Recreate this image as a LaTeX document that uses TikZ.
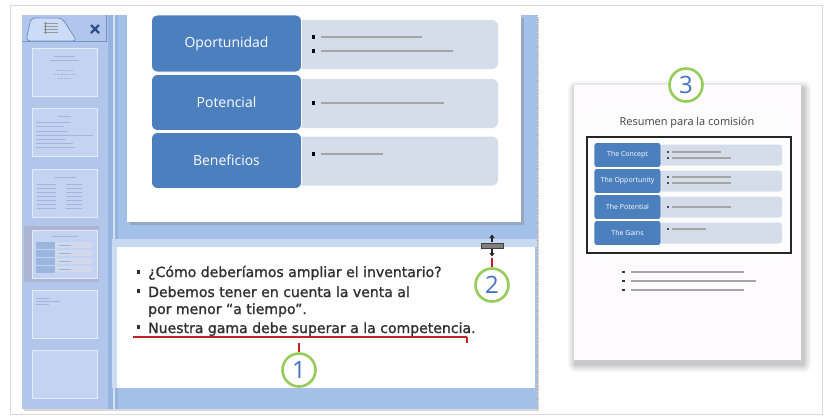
\documentclass[tikz,border=0pt]{standalone}
\usepackage{fontspec}
\setmainfont{Open Sans}
\newfontfamily\notesfont[FakeBold=1.2]{DejaVu Sans}
\usetikzlibrary{shadows,arrows.meta}
\definecolor{winblue}{RGB}{162,192,232}
\definecolor{paneblue}{RGB}{178,198,236}
\definecolor{stripeblue}{RGB}{150,180,226}
\definecolor{thumbfill}{RGB}{196,211,242}
\definecolor{thumbline}{RGB}{165,180,215}
\definecolor{selfill}{RGB}{172,182,212}
\definecolor{tabfill}{RGB}{205,220,246}
\definecolor{tabedge}{RGB}{110,145,200}
\definecolor{boxblue}{RGB}{76,127,189}
\definecolor{lightbx}{RGB}{214,221,234}
\definecolor{ringgreen}{RGB}{150,205,90}
\definecolor{numblue}{RGB}{70,112,192}
\definecolor{markred}{RGB}{196,32,42}
\definecolor{linegray}{RGB}{165,165,165}
\definecolor{notetext}{RGB}{48,48,48}
\definecolor{pagefill}{RGB}{253,251,254}
\definecolor{closeblue}{RGB}{45,80,140}
\begin{document}
\begin{tikzpicture}[x=1bp,y=-1bp,
  bluebox/.style={rectangle, rounded corners=6bp, fill=boxblue, draw=white, line width=0.8bp,
    text=white, font=\fontsize{14}{16}\selectfont, minimum width=150bp, minimum height=57bp, inner sep=0},
  lightbox/.style={rectangle, rounded corners=6bp, fill=lightbx, minimum width=202bp, minimum height=49bp, inner sep=0},
  smallblue/.style={rectangle, rounded corners=3bp, fill=boxblue, draw=white, line width=0.6bp,
    text=white, font=\fontsize{7}{8}\selectfont, minimum width=67bp, minimum height=25bp, inner sep=0},
  smalllight/.style={rectangle, rounded corners=3bp, fill=lightbx, minimum width=125bp, minimum height=21bp, inner sep=0},
  gline/.style={draw=linegray, line width=2.5bp},
  sline/.style={draw=linegray, line width=1.3bp},
  notes/.style={anchor=base west, inner sep=0, text=notetext, font=\notesfont\fontsize{14.1}{16}\selectfont},
  ring/.style={circle, draw=ringgreen, fill=white, line width=2.6bp, minimum size=33bp, inner sep=0,
    text=numblue, font=\fontsize{24}{24}\selectfont},
  redline/.style={draw=markred, line width=2bp},
  thumb/.style={fill=thumbfill, draw=white!55!thumbfill, line width=0.8bp},
  tl/.style={draw=thumbline, line width=0.5bp}
]
\useasboundingbox (0,0) rectangle (827,417);
\fill[white] (0,0) rectangle (827,417);
\draw[black!15, line width=1bp] (10,5) rectangle (822,414);

% ---------------- left window ----------------
\fill[winblue, drop shadow={shadow xshift=2bp, shadow yshift=-2bp, opacity=0.3}] (22,15) rectangle (537,409);
\fill[paneblue] (22,15) rectangle (108,409);
\fill[stripeblue] (108,15) rectangle (118,409);
\draw[white!55!winblue, line width=1.5bp] (114,15) -- (114,409);
\draw[black!35, densely dotted, line width=0.8bp] (537,15) -- (537,409);

% tab
\draw[tabedge, line width=0.8bp] (22,41) -- (106,41) -- (106,15);
\filldraw[fill=tabfill, draw=tabedge, line width=0.8bp, rounded corners=4bp] (26,41) -- (31,18) -- (62,18) -- (77,41) -- cycle;
\foreach \yy in {23.5,26.5,29.5,32.5} \draw[black!40, line width=1.2bp] (44,\yy) -- (58,\yy);
\draw[black!50, line width=1bp] (45,22) -- (45,34);
\draw[closeblue, line width=2.2bp] (91,25) -- (99,33) (91,33) -- (99,25);

% thumbnails
\fill[selfill] (24,226) rectangle (99,282);
\foreach \ty in {48,108,169,230,290,350}
  \filldraw[thumb, drop shadow={shadow xshift=1bp, shadow yshift=-1bp, opacity=0.15}] (32,\ty) rectangle (97,\ty+48);
% thumb 1
\draw[tl] (54,56) -- (75,56) (50,60) -- (79,60);
\draw[tl, densely dotted] (56,70) -- (73,70) (54,74) -- (75,74) (58,78) -- (71,78);
% thumb 2
\draw[tl] (58,116) -- (71,116);
\foreach \ly/\le in {122/70,126/64,131/68,135/93,139/66,143/73,147/75} \draw[tl] (36,\ly) -- (\le,\ly);
% thumb 3
\draw[tl] (54,177) -- (76,177);
\foreach \ly in {184,188,192,196,200,204,208} {\draw[tl] (37,\ly) -- (56,\ly); \draw[tl] (66,\ly) -- (82,\ly);}
% thumb 4
\draw[tl] (52,236) -- (78,236);
\foreach \ly in {245,253,261,269} {\fill[boxblue!35!thumbfill] (36,\ly-3.5) rectangle (55,\ly+3.5); \fill[lightbx!70!thumbfill] (55,\ly-3) rectangle (92,\ly+3); \draw[tl] (59,\ly) -- (71,\ly);}
% thumb 5
\draw[tl] (36,298) -- (50,298) (36,301) -- (60,301) (36,304) -- (49,304);

% slide
\fill[white, drop shadow={shadow xshift=3bp, shadow yshift=-3bp, opacity=0.35}] (127,15) rectangle (521,222);

\node[lightbox] (l1) at (397,44.5) {};
\node[lightbox] (l2) at (397,103.5) {};
\node[lightbox] (l3) at (397,161) {};
\node[bluebox] (b1) at (226.5,43.5) {Oportunidad};
\node[bluebox, minimum height=56bp] (b2) at (226.5,102.5) {Potencial};
\node[bluebox, minimum height=56bp] (b3) at (226.5,160.5) {Beneficios};
\foreach \by in {37,51,103,154} \fill[black] (311.8,\by-1.6) rectangle ++(3.2,3.2);
\draw[gline] (321,37) -- (422,37);
\draw[gline] (321,51) -- (453,51);
\draw[gline] (321,103) -- (444,103);
\draw[gline] (321,154) -- (383,154);

% splitter and notes
\fill[white!40!winblue] (112,239) rectangle (537,247);
\fill[white] (117,247) rectangle (535,388);
\fill[white!45!winblue] (112,247) rectangle (117,388);

\node[notes] (n1) at (148,277) {¿Cómo deberíamos ampliar el inventario?};
\node[notes] (n2) at (148,297) {Debemos tener en cuenta la venta al};
\node[notes] (n3) at (148,314) {por menor “a tiempo”.};
\node[notes] (n4) at (148,333) {Nuestra gama debe superar a la competencia.};
\foreach \by in {272,291,327} \fill[notetext] (137,\by-1.6) rectangle ++(3.2,3.2);

% splitter icon
\node[rectangle, fill=black!50, draw=black!75, line width=0.6bp, minimum width=22bp, minimum height=5bp, inner sep=0] (spl) at (492,245.5) {};
\draw[black!85, line width=1.1bp, -{Triangle[width=5bp,length=3.5bp]}] (492,242) -- (492,234.5);
\draw[black!85, line width=1.1bp, -{Triangle[width=5bp,length=3.5bp]}] (492,249) -- (492,256.5);
\coordinate (splb) at (492,258);

% callouts 1 and 2
\coordinate (brl) at (133,336.5);
\coordinate (brr) at (467,336.5);
\coordinate (brm) at (299,343);
\draw[redline] (brl) |- (brr);
\draw[redline] (brr) -- ++(0,6.5);
\node[ring] (c1) at (299,370) {1};
\draw[redline] (brm) -- (c1.north);
\node[ring] (c2) at (492,285) {2};
\draw[redline] (splb) -- (c2.north);

% ---------------- right page ----------------
\foreach \e/\o in {8/0.04,6/0.05,4/0.06,2/0.07}
  \fill[black, opacity=\o, rounded corners=\e bp] (574-\e+2,85-\e+4) rectangle (801+\e+2,360+\e+4);
\fill[pagefill] (574,85) rectangle (801,360);
\fill[white!60!pagefill] (582,107) rectangle (792,263);

\node[font=\fontsize{11}{12}\selectfont, text=black!75] (title) at (687,123) {Resumen para la comisión};
\node[draw=black!85, line width=1.3bp, minimum width=204bp, minimum height=116bp, inner sep=0] (frame) at (689,195) {};
\foreach \ry/\rt [count=\i] in {155/The Concept,181/The Opportunity,207/The Potential,233/The Gains} {
  \node[smalllight] (sl\i) at (719.5,\ry) {};
  \node[smallblue] (sb\i) at (627.5,\ry) {\rt};
}
\foreach \by in {152,158,177,183,207,229} \fill[black!70] (666.7,\by-1) rectangle ++(2,2);
\draw[sline] (672,152) -- (721,152);
\draw[sline] (672,158) -- (731,158);
\draw[sline] (672,177) -- (731,177);
\draw[sline] (672,183) -- (731,183);
\draw[sline] (672,207) -- (731,207);
\draw[sline] (672,229) -- (706,229);

\foreach \by in {272,281,290} \fill[black!80] (621.8,\by-1.4) rectangle ++(2.8,2.8);
\draw[gline, line width=1.8bp] (631,272) -- (744,272);
\draw[gline, line width=1.8bp] (631,281) -- (756,281);
\draw[gline, line width=1.8bp] (631,290) -- (744,290);

\node[ring] (c3) at (686,85) {3};
\end{tikzpicture}
\end{document}
